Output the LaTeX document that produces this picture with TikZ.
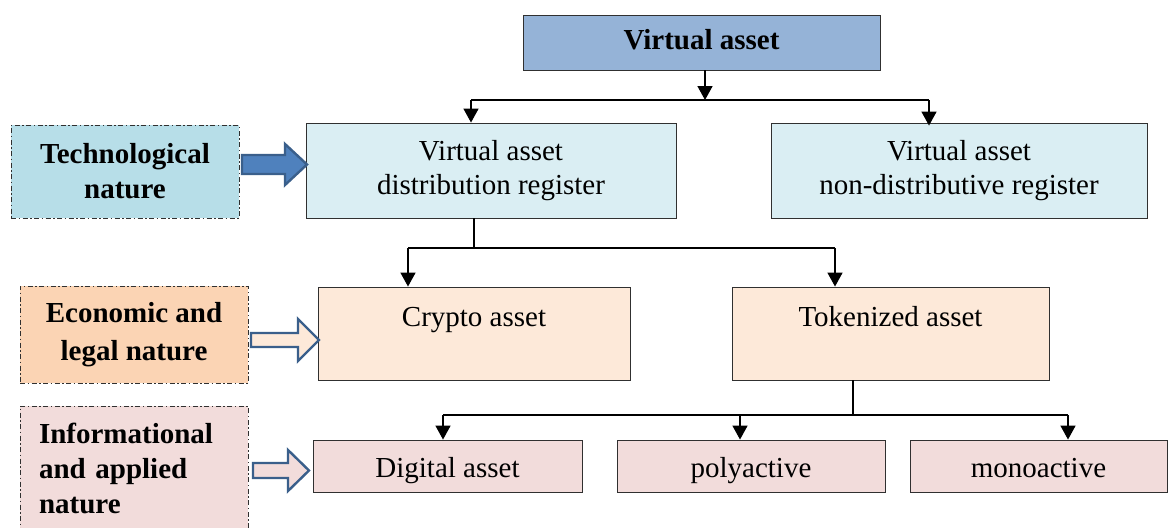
\documentclass[tikz,border=0pt]{standalone}
\usepackage{fontspec}
\setmainfont{Liberation Serif}
\usetikzlibrary{arrows.meta,calc}
\definecolor{vablue}{HTML}{95B3D7}
\definecolor{ltblue}{HTML}{DAEEF3}
\definecolor{techblue}{HTML}{B7DEE8}
\definecolor{peach}{HTML}{FDE9D9}
\definecolor{econ}{HTML}{FBD4B4}
\definecolor{pinkbox}{HTML}{F2DCDB}
\definecolor{arrfill}{HTML}{4F81BD}
\definecolor{arrdraw}{HTML}{3A5F8B}
\definecolor{bord}{HTML}{303030}
\tikzset{
  box/.style={draw=bord, line width=0.9pt, inner sep=0pt, align=center,
    font=\fontsize{29}{34}\selectfont},
  one/.style={text height=20pt, text depth=6pt},
  low/.style={text height=24pt, text depth=2pt},
  side/.style={draw=bord, line width=0.9pt,
    dash pattern=on 5pt off 2.5pt on 1.5pt off 2.5pt,
    inner sep=0pt, align=center, font=\bfseries\fontsize{29}{35}\selectfont},
  link/.style={line width=1.6pt, black},
  arr/.style={link, -{Triangle[length=14pt,width=15pt]}},
  barrow/.style={draw=arrdraw, line width=2.4pt, line join=miter}
}
\begin{document}
\begin{tikzpicture}[x=1pt,y=-1pt]
\useasboundingbox (0,0) rectangle (1169,527);
% main boxes
\node[box, one, fill=vablue, font=\bfseries\fontsize{29}{34}\selectfont,
  minimum width=357, minimum height=55] (va) at (701.5,42.5) {Virtual asset};
\node[box, fill=ltblue, minimum width=370, minimum height=95] (dist) at (491,170.5)
  {Virtual asset\\distribution register};
\node[box, fill=ltblue, minimum width=376, minimum height=95] (nondist) at (959,170.5)
  {Virtual asset\\non-distributive register};
\node[box, fill=peach, minimum width=312, minimum height=93] (crypto) at (474,333.5)
  {Crypto asset\\~};
\node[box, fill=peach, minimum width=317, minimum height=93] (token) at (890.5,333.5)
  {Tokenized asset\\~};
\node[box, low, fill=pinkbox, minimum width=269, minimum height=52] (digital) at (447.5,466)
  {Digital asset};
\node[box, low, fill=pinkbox, minimum width=268, minimum height=52] (poly) at (751,466)
  {polyactive};
\node[box, low, fill=pinkbox, minimum width=257, minimum height=52] (mono) at (1038.5,466)
  {monoactive};
% side boxes
\node[side, fill=techblue, minimum width=228, minimum height=93] (tech) at (125,171.5)
  {Technological\\nature};
\node[side, fill=econ, minimum width=228, minimum height=97,
  font=\bfseries\fontsize{29}{38}\selectfont] (econ) at (134,334.5)
  {Economic and\\legal nature};
\node[side, fill=pinkbox, minimum width=228, minimum height=124, text width=190,
  align=left] (info) at (134,468)
  {Informational\\and applied\\nature};
% connectors level 1
\coordinate (j1) at (705,100);
\coordinate (l1) at (471,100);
\coordinate (r1) at (929,100);
\draw[arr] (va.south -| j1) -- (j1);
\draw[link] (l1) -- (r1);
\draw[arr] (l1) -- (l1 |- dist.north);
\draw[arr] (r1) -- ($(r1 |- nondist.north)+(0,3)$);
% connectors level 2
\coordinate (j2) at (474,248);
\coordinate (l2) at (408,248);
\coordinate (r2) at (835,248);
\draw[link] (dist.south -| j2) -- (j2);
\draw[link] (l2) -- (r2);
\draw[arr] (l2) -- (l2 |- crypto.north);
\draw[arr] (r2) -- (r2 |- token.north);
% connectors level 3
\coordinate (j3) at (853,415);
\coordinate (l3) at (443,415);
\coordinate (m3) at (740,415);
\coordinate (r3) at (1068,415);
\draw[link] (token.south -| j3) -- (j3);
\draw[link] (l3) -- (r3);
\draw[arr] (l3) -- (l3 |- digital.north);
\draw[arr] (m3) -- (m3 |- poly.north);
\draw[arr] (r3) -- (r3 |- mono.north);
% block arrows
\draw[barrow, fill=arrfill] (242,155) -- (285,155) -- (285,144) -- (307,164.5)
  -- (285,185) -- (285,174) -- (242,174) -- cycle;
\draw[barrow, fill=peach] (251,333) -- (298,333) -- (298,319) -- (319,340)
  -- (298,361) -- (298,347) -- (251,347) -- cycle;
\draw[barrow, fill=pinkbox] (253,463) -- (288,463) -- (288,450) -- (309,470.5)
  -- (288,491) -- (288,478) -- (253,478) -- cycle;
\end{tikzpicture}
\end{document}
